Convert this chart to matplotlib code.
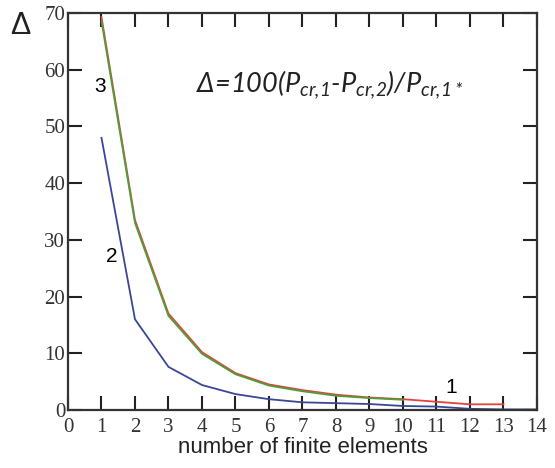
import matplotlib.pyplot as plt

# values
x_red = list(range(1, 14))
d_red = [69.3, 33.5, 17.0, 10.2, 6.5, 4.5, 3.5, 2.7, 2.2, 1.9, 1.45, 1.0, 1.0]

x_green = list(range(1, 11))
d_green = [68.6, 33.0, 16.6, 9.9, 6.3, 4.3, 3.3, 2.5, 2.1, 1.8]

x_blue = list(range(1, 15))
d_blue = [48.0, 16.0, 7.6, 4.4, 2.8, 1.9, 1.35, 1.2, 1.05, 0.7, 0.6, 0.2, 0.1, 0.1]

xticks = list(range(0, 15))
yticks = list(range(0, 80, 10))

plt.rcParams['mathtext.fontset'] = 'custom'
plt.rcParams['mathtext.rm'] = 'Lato:italic'
plt.rcParams['mathtext.it'] = 'Lato:italic'

fig = plt.figure(figsize=(5.55, 4.68), dpi=100)
ax = fig.add_axes([0.1225, 0.124, 0.845, 0.848])

ax.plot(x_red, d_red, color='#e0443c', lw=1.3)
ax.plot(x_green, d_green, color='#4f9d3a', lw=1.3)
ax.plot(x_blue, d_blue, color='#3a4794', lw=1.3)

ax.set_xlim(0, 14)
ax.set_ylim(0, 70)
ax.set_xticks(xticks)
ax.set_yticks(yticks)
ax.tick_params(direction='in', length=10, width=1.5, color='#222222',
               top=True, right=True, labelsize=15)
ax.tick_params(axis='x', pad=6)
ax.tick_params(axis='y', pad=2)
for lab in ax.get_xticklabels() + ax.get_yticklabels():
    lab.set_fontfamily('Liberation Serif')
    lab.set_color('#333333')
for sp in ax.spines.values():
    sp.set_linewidth(1.6)
    sp.set_color('#333333')

ax.set_xlabel('number of finite elements', fontfamily='Liberation Sans',
              fontsize=16, color='#222222', labelpad=0)

fig.text(0.036, 0.945, 'Δ', fontfamily='Liberation Sans', fontsize=22,
         color='#222222', ha='center', va='center')

ax.text(7.8, 57.3, r'Δ=100(P$_{cr{,}1}$-P$_{cr{,}2}$)/P$_{cr{,}1*}$',
        fontfamily='Lato', style='italic', fontsize=19.5,
        color='#222222', ha='center', va='center')

ax.text(0.95, 57, '3', fontfamily='Liberation Sans', fontsize=15, ha='center', va='center')
ax.text(1.3, 27, '2', fontfamily='Liberation Sans', fontsize=15, ha='center', va='center')
ax.text(11.45, 3.9, '1', fontfamily='Liberation Sans', fontsize=15, ha='center', va='center')

plt.savefig('out.png', dpi=100)
